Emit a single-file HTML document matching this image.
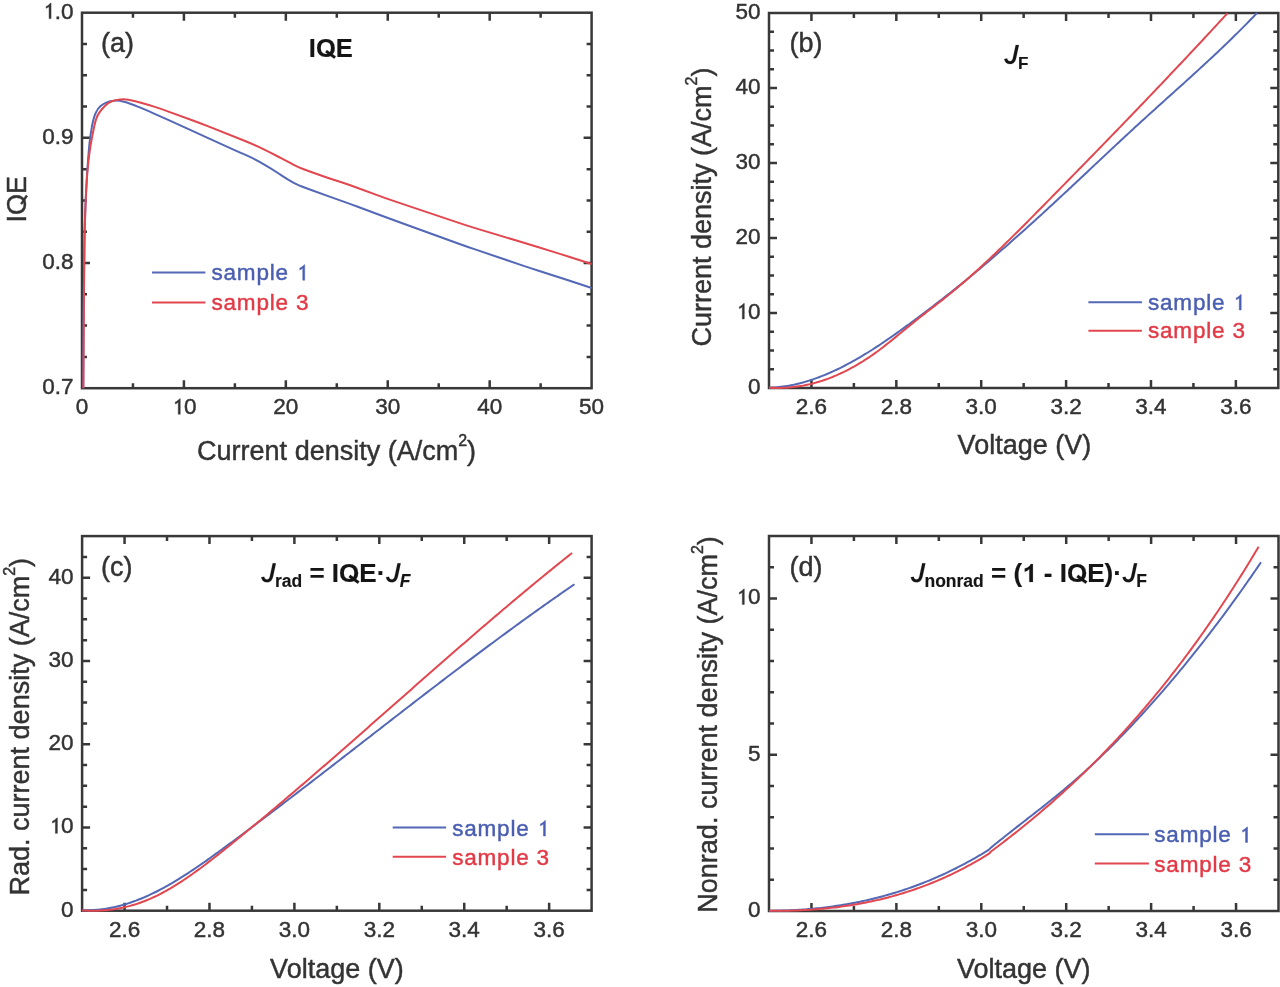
<!DOCTYPE html><html><head><meta charset="utf-8"><style>html,body{margin:0;padding:0;background:#fff;}svg{display:block;filter:blur(0.55px);}text{font-family:"Liberation Sans",sans-serif;fill:#333;stroke:#333;stroke-width:0.45px;}.tk{font-size:22.5px;}.lab{font-size:27px;}.lg{font-size:22.5px;letter-spacing:0.8px;}.one,.jj{fill:transparent!important;stroke:none!important;}.bt{font-weight:bold;fill:#151515;stroke:#151515;stroke-width:0.15px;}</style></head><body>
<svg width="1280" height="987" viewBox="0 0 1280 987">
<rect width="1280" height="987" fill="#fff"/>
<path d="M183.92,388.20v-8.00M183.92,12.70v8.00M285.84,388.20v-8.00M285.84,12.70v8.00M387.76,388.20v-8.00M387.76,12.70v8.00M489.68,388.20v-8.00M489.68,12.70v8.00M132.96,388.20v-5.00M132.96,12.70v5.00M234.88,388.20v-5.00M234.88,12.70v5.00M336.80,388.20v-5.00M336.80,12.70v5.00M438.72,388.20v-5.00M438.72,12.70v5.00M540.64,388.20v-5.00M540.64,12.70v5.00M82.00,263.03h8.00M591.60,263.03h-8.00M82.00,137.87h8.00M591.60,137.87h-8.00M82.00,356.91h5.00M591.60,356.91h-5.00M82.00,325.62h5.00M591.60,325.62h-5.00M82.00,294.32h5.00M591.60,294.32h-5.00M82.00,231.74h5.00M591.60,231.74h-5.00M82.00,200.45h5.00M591.60,200.45h-5.00M82.00,169.16h5.00M591.60,169.16h-5.00M82.00,106.57h5.00M591.60,106.57h-5.00M82.00,75.28h5.00M591.60,75.28h-5.00M82.00,43.99h5.00M591.60,43.99h-5.00" stroke="#383838" stroke-width="2.50" fill="none"/>
<rect x="82.00" y="12.70" width="509.60" height="375.50" fill="none" stroke="#383838" stroke-width="2.50"/>
<path d="M83.20,388.20 L83.55,319.00 Q83.60,310.00 83.70,301.00 L84.30,249.00 Q84.40,240.00 84.67,231.00 L85.33,209.00 Q85.60,200.00 86.11,191.01 L86.69,180.99 Q87.20,172.00 87.85,163.02 L88.15,158.98 Q88.80,150.00 89.50,143.00 L89.50,143.00 Q90.20,136.00 91.82,127.15 L91.98,126.25 Q93.60,117.40 95.70,112.95 L95.70,112.95 Q97.80,108.50 100.60,106.10 L100.60,106.10 Q103.40,103.70 106.70,102.35 L106.70,102.35 Q110.00,101.00 114.30,100.65 L114.30,100.65 Q118.60,100.30 124.00,101.70 L124.00,101.70 Q129.40,103.10 137.71,106.56 L139.79,107.44 Q148.10,110.90 154.05,113.55 L154.05,113.55 Q160.00,116.20 168.19,119.93 L191.81,130.67 Q200.00,134.40 208.19,138.13 L231.81,148.87 Q240.00,152.60 246.10,155.20 L246.10,155.20 Q252.20,157.80 260.03,162.23 L262.57,163.67 Q270.40,168.10 277.93,173.03 L281.07,175.07 Q288.60,180.00 293.30,182.60 L293.30,182.60 Q298.00,185.20 306.46,188.26 L311.94,190.24 Q320.40,193.30 328.87,196.33 L341.53,200.87 Q350.00,203.90 358.43,207.05 L377.17,214.05 Q385.60,217.20 394.06,220.26 L458.14,243.44 Q466.60,246.50 475.12,249.39 L521.48,265.11 Q530.00,268.00 538.57,270.74 L551.83,274.96 Q560.40,277.70 568.95,280.52 L591.60,288.00" stroke="#5468b6" stroke-width="2.00" fill="none" stroke-linejoin="round"/>
<path d="M83.40,388.20 L83.85,309.00 Q83.90,300.00 83.99,291.00 L84.51,240.00 Q84.60,231.00 84.92,222.01 L85.38,208.99 Q85.70,200.00 86.18,191.01 L86.72,180.99 Q87.20,172.00 88.23,163.06 L88.47,160.94 Q89.50,152.00 90.55,145.50 L90.55,145.50 Q91.60,139.00 93.44,130.19 L94.26,126.21 Q96.10,117.40 98.80,113.35 L98.80,113.35 Q101.50,109.30 104.85,105.95 L104.85,105.95 Q108.20,102.60 111.85,101.25 L111.85,101.25 Q115.50,99.90 120.05,99.50 L120.05,99.50 Q124.60,99.10 128.30,99.70 L128.30,99.70 Q132.00,100.30 140.05,102.55 L140.05,102.55 Q148.10,104.80 154.05,106.65 L154.05,106.65 Q160.00,108.50 168.45,111.59 L191.55,120.01 Q200.00,123.10 208.37,126.42 L243.83,140.48 Q252.20,143.80 260.30,147.72 L262.30,148.68 Q270.40,152.60 278.38,156.76 L280.62,157.94 Q288.60,162.10 293.30,164.65 L293.30,164.65 Q298.00,167.20 306.45,170.29 L311.95,172.31 Q320.40,175.40 328.95,178.20 L341.45,182.30 Q350.00,185.10 358.44,188.23 L377.16,195.17 Q385.60,198.30 394.13,201.17 L458.07,222.63 Q466.60,225.50 475.22,228.10 L521.38,242.00 Q530.00,244.60 538.60,247.26 L551.80,251.34 Q560.40,254.00 568.97,256.75 L591.60,264.00" stroke="#e2474f" stroke-width="2.00" fill="none" stroke-linejoin="round"/>
<text x="82.00" y="414.20" text-anchor="middle" class="tk">0</text>
<text x="183.92" y="414.20" text-anchor="middle" class="tk"><tspan class="one">1</tspan>0</text>
<text x="285.84" y="414.20" text-anchor="middle" class="tk">20</text>
<text x="387.76" y="414.20" text-anchor="middle" class="tk">30</text>
<text x="489.68" y="414.20" text-anchor="middle" class="tk">40</text>
<text x="591.60" y="414.20" text-anchor="middle" class="tk">50</text>
<text x="73.50" y="394.10" text-anchor="end" class="tk">0.7</text>
<text x="73.50" y="268.93" text-anchor="end" class="tk">0.8</text>
<text x="73.50" y="143.77" text-anchor="end" class="tk">0.9</text>
<text x="73.50" y="18.60" text-anchor="end" class="tk"><tspan class="one">1</tspan>.0</text>
<text x="336.60" y="459.80" text-anchor="middle" class="lab">Current density (A/cm<tspan font-size="16" dy="-14.3">2</tspan><tspan dy="14.3">)</tspan></text>
<text transform="translate(26,199.2) rotate(-90)" text-anchor="middle" class="lab">I<tspan class="qq">O</tspan>E</text>
<text x="101" y="51.5" class="lab">(a)</text>
<text x="308.8" y="57" class="bt" font-size="25.5">I<tspan class="qq">O</tspan>E</text>
<path d="M152.00,272.60H205.40" stroke="#5468b6" stroke-width="2.00"/>
<path d="M152.00,302.40H205.40" stroke="#e2474f" stroke-width="2.00"/>
<text x="211.50" y="280.20" class="lg" style="fill:#4a5eb2;stroke:#4a5eb2">sample <tspan class="one">1</tspan></text>
<text x="211.50" y="310.00" class="lg" style="fill:#e23a46;stroke:#e23a46">sample 3</text>
<path d="M811.44,388.00v-8.00M811.44,13.00v8.00M896.33,388.00v-8.00M896.33,13.00v8.00M981.21,388.00v-8.00M981.21,13.00v8.00M1066.09,388.00v-8.00M1066.09,13.00v8.00M1150.98,388.00v-8.00M1150.98,13.00v8.00M1235.86,388.00v-8.00M1235.86,13.00v8.00M853.88,388.00v-5.00M853.88,13.00v5.00M938.77,388.00v-5.00M938.77,13.00v5.00M1023.65,388.00v-5.00M1023.65,13.00v5.00M1108.53,388.00v-5.00M1108.53,13.00v5.00M1193.42,388.00v-5.00M1193.42,13.00v5.00M769.00,313.00h8.00M1278.30,313.00h-8.00M769.00,238.00h8.00M1278.30,238.00h-8.00M769.00,163.00h8.00M1278.30,163.00h-8.00M769.00,88.00h8.00M1278.30,88.00h-8.00M769.00,369.25h5.00M1278.30,369.25h-5.00M769.00,350.50h5.00M1278.30,350.50h-5.00M769.00,331.75h5.00M1278.30,331.75h-5.00M769.00,294.25h5.00M1278.30,294.25h-5.00M769.00,275.50h5.00M1278.30,275.50h-5.00M769.00,256.75h5.00M1278.30,256.75h-5.00M769.00,219.25h5.00M1278.30,219.25h-5.00M769.00,200.50h5.00M1278.30,200.50h-5.00M769.00,181.75h5.00M1278.30,181.75h-5.00M769.00,144.25h5.00M1278.30,144.25h-5.00M769.00,125.50h5.00M1278.30,125.50h-5.00M769.00,106.75h5.00M1278.30,106.75h-5.00M769.00,69.25h5.00M1278.30,69.25h-5.00M769.00,50.50h5.00M1278.30,50.50h-5.00M769.00,31.75h5.00M1278.30,31.75h-5.00" stroke="#383838" stroke-width="2.50" fill="none"/>
<rect x="769.00" y="13.00" width="509.30" height="375.00" fill="none" stroke="#383838" stroke-width="2.50"/>
<path d="M769.00,387.80 L771.00,387.72 L773.00,387.61 L775.00,387.47 L777.00,387.30 L779.00,387.09 L781.00,386.86 L783.00,386.60 L785.00,386.31 L787.00,385.99 L789.00,385.64 L791.00,385.26 L793.00,384.86 L795.00,384.43 L797.00,383.97 L799.00,383.48 L801.00,382.97 L803.00,382.43 L805.00,381.86 L807.00,381.27 L809.00,380.65 L811.00,380.01 L813.00,379.34 L815.00,378.65 L817.00,377.93 L819.00,377.19 L821.00,376.42 L823.00,375.64 L825.00,374.82 L827.00,373.99 L829.00,373.13 L831.00,372.26 L833.00,371.36 L835.00,370.43 L837.00,369.49 L839.00,368.53 L841.00,367.54 L843.00,366.54 L845.00,365.51 L847.00,364.47 L849.00,363.40 L851.00,362.32 L853.00,361.22 L855.00,360.10 L857.00,358.96 L859.00,357.80 L861.00,356.63 L863.00,355.44 L865.00,354.23 L867.00,353.01 L869.00,351.77 L871.00,350.51 L873.00,349.24 L875.00,347.95 L877.00,346.65 L879.00,345.33 L881.00,344.00 L883.00,342.65 L885.00,341.29 L887.00,339.92 L889.00,338.54 L891.00,337.15 L893.00,335.74 L895.00,334.33 L897.00,332.90 L899.00,331.47 L901.00,330.03 L903.00,328.58 L905.00,327.12 L907.00,325.66 L909.00,324.19 L911.00,322.71 L913.00,321.23 L915.00,319.75 L917.00,318.26 L919.00,316.76 L921.00,315.26 L923.00,313.76 L925.00,312.26 L927.00,310.75 L929.00,309.23 L931.00,307.71 L933.00,306.18 L935.00,304.65 L937.00,303.12 L939.00,301.57 L941.00,300.03 L943.00,298.47 L945.00,296.91 L947.00,295.34 L949.00,293.77 L951.00,292.19 L953.00,290.60 L955.00,289.00 L957.00,287.40 L959.00,285.80 L961.00,284.18 L963.00,282.56 L965.00,280.93 L967.00,279.30 L969.00,277.66 L971.00,276.01 L973.00,274.36 L975.00,272.70 L977.00,271.04 L979.00,269.37 L981.00,267.69 L983.00,266.01 L985.00,264.32 L987.00,262.62 L989.00,260.92 L991.00,259.22 L993.00,257.51 L995.00,255.79 L997.00,254.07 L999.00,252.34 L1001.00,250.61 L1003.00,248.87 L1005.00,247.13 L1007.00,245.38 L1009.00,243.63 L1011.00,241.87 L1013.00,240.11 L1015.00,238.34 L1017.00,236.57 L1019.00,234.79 L1021.00,233.01 L1023.00,231.22 L1025.00,229.43 L1027.00,227.63 L1029.00,225.83 L1031.00,224.03 L1033.00,222.22 L1035.00,220.41 L1037.00,218.59 L1039.00,216.77 L1041.00,214.94 L1043.00,213.12 L1045.00,211.28 L1047.00,209.45 L1049.00,207.61 L1051.00,205.76 L1053.00,203.91 L1055.00,202.06 L1057.00,200.21 L1059.00,198.35 L1061.00,196.49 L1063.00,194.63 L1065.00,192.77 L1067.00,190.90 L1069.00,189.03 L1071.00,187.16 L1073.00,185.29 L1075.00,183.42 L1077.00,181.54 L1079.00,179.67 L1081.00,177.79 L1083.00,175.91 L1085.00,174.03 L1087.00,172.15 L1089.00,170.27 L1091.00,168.39 L1093.00,166.51 L1095.00,164.64 L1097.00,162.76 L1099.00,160.88 L1101.00,159.00 L1103.00,157.12 L1105.00,155.25 L1107.00,153.37 L1109.00,151.50 L1111.00,149.63 L1113.00,147.76 L1115.00,145.89 L1117.00,144.02 L1119.00,142.16 L1121.00,140.29 L1123.00,138.43 L1125.00,136.58 L1127.00,134.72 L1129.00,132.87 L1131.00,131.03 L1133.00,129.18 L1135.00,127.34 L1137.00,125.50 L1139.00,123.67 L1141.00,121.84 L1143.00,120.02 L1145.00,118.19 L1147.00,116.38 L1149.00,114.56 L1151.00,112.75 L1153.00,110.94 L1155.00,109.14 L1157.00,107.33 L1159.00,105.53 L1161.00,103.73 L1163.00,101.93 L1165.00,100.13 L1167.00,98.33 L1169.00,96.53 L1171.00,94.73 L1173.00,92.93 L1175.00,91.13 L1177.00,89.33 L1179.00,87.53 L1181.00,85.73 L1183.00,83.92 L1185.00,82.12 L1187.00,80.31 L1189.00,78.49 L1191.00,76.68 L1193.00,74.86 L1195.00,73.03 L1197.00,71.21 L1199.00,69.37 L1201.00,67.54 L1203.00,65.70 L1205.00,63.85 L1207.00,62.00 L1209.00,60.14 L1211.00,58.28 L1213.00,56.41 L1215.00,54.53 L1217.00,52.65 L1219.00,50.75 L1221.00,48.86 L1223.00,46.95 L1225.00,45.03 L1227.00,43.11 L1229.00,41.18 L1231.00,39.23 L1233.00,37.28 L1235.00,35.32 L1237.00,33.35 L1239.00,31.37 L1241.00,29.38 L1243.00,27.37 L1245.00,25.36 L1247.00,23.33 L1249.00,21.29 L1251.00,19.24 L1253.00,17.18 L1255.00,15.10 L1257.00,13.01" stroke="#5468b6" stroke-width="2.00" fill="none" stroke-linejoin="round"/>
<path d="M769.00,387.62 L771.00,387.74 L773.00,387.83 L775.00,387.89 L777.00,387.92 L779.00,387.92 L781.00,387.89 L783.00,387.83 L785.00,387.74 L787.00,387.63 L789.00,387.48 L791.00,387.30 L793.00,387.10 L795.00,386.86 L797.00,386.60 L799.00,386.30 L801.00,385.98 L803.00,385.62 L805.00,385.24 L807.00,384.83 L809.00,384.38 L811.00,383.91 L813.00,383.41 L815.00,382.88 L817.00,382.32 L819.00,381.73 L821.00,381.11 L823.00,380.46 L825.00,379.78 L827.00,379.07 L829.00,378.33 L831.00,377.56 L833.00,376.76 L835.00,375.94 L837.00,375.08 L839.00,374.19 L841.00,373.27 L843.00,372.33 L845.00,371.35 L847.00,370.35 L849.00,369.31 L851.00,368.24 L853.00,367.15 L855.00,366.03 L857.00,364.87 L859.00,363.69 L861.00,362.47 L863.00,361.23 L865.00,359.96 L867.00,358.65 L869.00,357.32 L871.00,355.96 L873.00,354.57 L875.00,353.14 L877.00,351.69 L879.00,350.21 L881.00,348.71 L883.00,347.18 L885.00,345.62 L887.00,344.05 L889.00,342.47 L891.00,340.86 L893.00,339.25 L895.00,337.62 L897.00,335.98 L899.00,334.34 L901.00,332.69 L903.00,331.05 L905.00,329.40 L907.00,327.75 L909.00,326.11 L911.00,324.48 L913.00,322.85 L915.00,321.24 L917.00,319.64 L919.00,318.05 L921.00,316.47 L923.00,314.91 L925.00,313.35 L927.00,311.80 L929.00,310.25 L931.00,308.71 L933.00,307.16 L935.00,305.62 L937.00,304.07 L939.00,302.51 L941.00,300.95 L943.00,299.38 L945.00,297.80 L947.00,296.20 L949.00,294.59 L951.00,292.96 L953.00,291.32 L955.00,289.66 L957.00,287.99 L959.00,286.30 L961.00,284.59 L963.00,282.87 L965.00,281.14 L967.00,279.39 L969.00,277.63 L971.00,275.86 L973.00,274.07 L975.00,272.28 L977.00,270.46 L979.00,268.64 L981.00,266.81 L983.00,264.96 L985.00,263.10 L987.00,261.24 L989.00,259.36 L991.00,257.47 L993.00,255.57 L995.00,253.67 L997.00,251.75 L999.00,249.83 L1001.00,247.90 L1003.00,245.96 L1005.00,244.01 L1007.00,242.05 L1009.00,240.09 L1011.00,238.12 L1013.00,236.15 L1015.00,234.16 L1017.00,232.18 L1019.00,230.19 L1021.00,228.19 L1023.00,226.19 L1025.00,224.18 L1027.00,222.17 L1029.00,220.16 L1031.00,218.14 L1033.00,216.12 L1035.00,214.09 L1037.00,212.07 L1039.00,210.04 L1041.00,208.01 L1043.00,205.98 L1045.00,203.95 L1047.00,201.91 L1049.00,199.88 L1051.00,197.85 L1053.00,195.81 L1055.00,193.78 L1057.00,191.74 L1059.00,189.70 L1061.00,187.66 L1063.00,185.63 L1065.00,183.59 L1067.00,181.55 L1069.00,179.51 L1071.00,177.46 L1073.00,175.42 L1075.00,173.38 L1077.00,171.33 L1079.00,169.29 L1081.00,167.24 L1083.00,165.19 L1085.00,163.14 L1087.00,161.09 L1089.00,159.04 L1091.00,156.99 L1093.00,154.94 L1095.00,152.88 L1097.00,150.83 L1099.00,148.77 L1101.00,146.71 L1103.00,144.65 L1105.00,142.59 L1107.00,140.53 L1109.00,138.47 L1111.00,136.41 L1113.00,134.34 L1115.00,132.27 L1117.00,130.21 L1119.00,128.14 L1121.00,126.07 L1123.00,123.99 L1125.00,121.92 L1127.00,119.84 L1129.00,117.77 L1131.00,115.69 L1133.00,113.61 L1135.00,111.53 L1137.00,109.45 L1139.00,107.36 L1141.00,105.28 L1143.00,103.19 L1145.00,101.10 L1147.00,99.01 L1149.00,96.92 L1151.00,94.82 L1153.00,92.73 L1155.00,90.63 L1157.00,88.53 L1159.00,86.43 L1161.00,84.32 L1163.00,82.22 L1165.00,80.11 L1167.00,78.00 L1169.00,75.89 L1171.00,73.78 L1173.00,71.66 L1175.00,69.55 L1177.00,67.43 L1179.00,65.31 L1181.00,63.19 L1183.00,61.06 L1185.00,58.94 L1187.00,56.81 L1189.00,54.68 L1191.00,52.54 L1193.00,50.41 L1195.00,48.27 L1197.00,46.13 L1199.00,43.99 L1201.00,41.85 L1203.00,39.70 L1205.00,37.55 L1207.00,35.40 L1209.00,33.25 L1211.00,31.09 L1213.00,28.93 L1215.00,26.77 L1217.00,24.61 L1219.00,22.44 L1221.00,20.28 L1223.00,18.11 L1225.00,15.93 L1227.00,13.76 L1227.50,13.22" stroke="#e2474f" stroke-width="2.00" fill="none" stroke-linejoin="round"/>
<text x="811.44" y="414.00" text-anchor="middle" class="tk">2.6</text>
<text x="896.33" y="414.00" text-anchor="middle" class="tk">2.8</text>
<text x="981.21" y="414.00" text-anchor="middle" class="tk">3.0</text>
<text x="1066.09" y="414.00" text-anchor="middle" class="tk">3.2</text>
<text x="1150.98" y="414.00" text-anchor="middle" class="tk">3.4</text>
<text x="1235.86" y="414.00" text-anchor="middle" class="tk">3.6</text>
<text x="760.50" y="393.90" text-anchor="end" class="tk">0</text>
<text x="760.50" y="318.90" text-anchor="end" class="tk"><tspan class="one">1</tspan>0</text>
<text x="760.50" y="243.90" text-anchor="end" class="tk">20</text>
<text x="760.50" y="168.90" text-anchor="end" class="tk">30</text>
<text x="760.50" y="93.90" text-anchor="end" class="tk">40</text>
<text x="760.50" y="18.90" text-anchor="end" class="tk">50</text>
<text x="1024.40" y="454.40" text-anchor="middle" class="lab">Voltage (V)</text>
<text transform="translate(711.3,207) rotate(-90)" text-anchor="middle" class="lab">Current density (A/cm<tspan font-size="16" dy="-14.3">2</tspan><tspan dy="14.3">)</tspan></text>
<text x="789.5" y="52" class="lab">(b)</text>
<text x="1003.5" y="63.8" class="bt" font-size="26"><tspan font-style="italic" class="jj">J</tspan><tspan font-size="17" dy="5.2">F</tspan></text>
<path d="M1088.40,302.20H1141.90" stroke="#5468b6" stroke-width="2.00"/>
<path d="M1088.40,330.70H1141.90" stroke="#e2474f" stroke-width="2.00"/>
<text x="1148.00" y="310.00" class="lg" style="fill:#4a5eb2;stroke:#4a5eb2">sample <tspan class="one">1</tspan></text>
<text x="1148.00" y="338.40" class="lg" style="fill:#e23a46;stroke:#e23a46">sample 3</text>
<path d="M124.56,910.70v-8.00M124.56,536.10v8.00M209.48,910.70v-8.00M209.48,536.10v8.00M294.39,910.70v-8.00M294.39,536.10v8.00M379.31,910.70v-8.00M379.31,536.10v8.00M464.23,910.70v-8.00M464.23,536.10v8.00M549.14,910.70v-8.00M549.14,536.10v8.00M167.02,910.70v-5.00M167.02,536.10v5.00M251.93,910.70v-5.00M251.93,536.10v5.00M336.85,910.70v-5.00M336.85,536.10v5.00M421.77,910.70v-5.00M421.77,536.10v5.00M506.68,910.70v-5.00M506.68,536.10v5.00M82.10,827.46h8.00M591.60,827.46h-8.00M82.10,744.21h8.00M591.60,744.21h-8.00M82.10,660.97h8.00M591.60,660.97h-8.00M82.10,577.72h8.00M591.60,577.72h-8.00M82.10,889.89h5.00M591.60,889.89h-5.00M82.10,869.08h5.00M591.60,869.08h-5.00M82.10,848.27h5.00M591.60,848.27h-5.00M82.10,806.64h5.00M591.60,806.64h-5.00M82.10,785.83h5.00M591.60,785.83h-5.00M82.10,765.02h5.00M591.60,765.02h-5.00M82.10,723.40h5.00M591.60,723.40h-5.00M82.10,702.59h5.00M591.60,702.59h-5.00M82.10,681.78h5.00M591.60,681.78h-5.00M82.10,640.16h5.00M591.60,640.16h-5.00M82.10,619.34h5.00M591.60,619.34h-5.00M82.10,598.53h5.00M591.60,598.53h-5.00M82.10,556.91h5.00M591.60,556.91h-5.00" stroke="#383838" stroke-width="2.50" fill="none"/>
<rect x="82.10" y="536.10" width="509.50" height="374.60" fill="none" stroke="#383838" stroke-width="2.50"/>
<path d="M82.10,910.16 L84.10,910.20 L86.10,910.22 L88.10,910.20 L90.10,910.16 L92.10,910.07 L94.10,909.96 L96.10,909.82 L98.10,909.64 L100.10,909.43 L102.10,909.19 L104.10,908.92 L106.10,908.62 L108.10,908.29 L110.10,907.93 L112.10,907.54 L114.10,907.11 L116.10,906.66 L118.10,906.18 L120.10,905.67 L122.10,905.13 L124.10,904.57 L126.10,903.97 L128.10,903.34 L130.10,902.69 L132.10,902.01 L134.10,901.30 L136.10,900.57 L138.10,899.80 L140.10,899.01 L142.10,898.20 L144.10,897.35 L146.10,896.48 L148.10,895.59 L150.10,894.67 L152.10,893.72 L154.10,892.75 L156.10,891.75 L158.10,890.74 L160.10,889.70 L162.10,888.63 L164.10,887.55 L166.10,886.44 L168.10,885.32 L170.10,884.17 L172.10,883.01 L174.10,881.83 L176.10,880.62 L178.10,879.40 L180.10,878.17 L182.10,876.92 L184.10,875.65 L186.10,874.36 L188.10,873.07 L190.10,871.75 L192.10,870.43 L194.10,869.09 L196.10,867.74 L198.10,866.37 L200.10,865.00 L202.10,863.61 L204.10,862.22 L206.10,860.81 L208.10,859.40 L210.10,857.98 L212.10,856.54 L214.10,855.11 L216.10,853.66 L218.10,852.21 L220.10,850.75 L222.10,849.29 L224.10,847.83 L226.10,846.36 L228.10,844.88 L230.10,843.41 L232.10,841.93 L234.10,840.45 L236.10,838.97 L238.10,837.48 L240.10,835.99 L242.10,834.50 L244.10,833.01 L246.10,831.52 L248.10,830.03 L250.10,828.53 L252.10,827.03 L254.10,825.53 L256.10,824.03 L258.10,822.52 L260.10,821.02 L262.10,819.51 L264.10,818.00 L266.10,816.49 L268.10,814.97 L270.10,813.46 L272.10,811.94 L274.10,810.43 L276.10,808.91 L278.10,807.39 L280.10,805.86 L282.10,804.34 L284.10,802.82 L286.10,801.29 L288.10,799.76 L290.10,798.23 L292.10,796.70 L294.10,795.17 L296.10,793.64 L298.10,792.11 L300.10,790.57 L302.10,789.04 L304.10,787.50 L306.10,785.96 L308.10,784.42 L310.10,782.88 L312.10,781.34 L314.10,779.80 L316.10,778.26 L318.10,776.72 L320.10,775.17 L322.10,773.63 L324.10,772.08 L326.10,770.54 L328.10,768.99 L330.10,767.44 L332.10,765.90 L334.10,764.35 L336.10,762.80 L338.10,761.25 L340.10,759.70 L342.10,758.15 L344.10,756.60 L346.10,755.05 L348.10,753.50 L350.10,751.95 L352.10,750.39 L354.10,748.84 L356.10,747.29 L358.10,745.74 L360.10,744.19 L362.10,742.63 L364.10,741.08 L366.10,739.53 L368.10,737.98 L370.10,736.42 L372.10,734.87 L374.10,733.32 L376.10,731.77 L378.10,730.22 L380.10,728.67 L382.10,727.11 L384.10,725.56 L386.10,724.01 L388.10,722.46 L390.10,720.91 L392.10,719.36 L394.10,717.82 L396.10,716.27 L398.10,714.72 L400.10,713.17 L402.10,711.63 L404.10,710.08 L406.10,708.53 L408.10,706.99 L410.10,705.45 L412.10,703.90 L414.10,702.36 L416.10,700.82 L418.10,699.28 L420.10,697.74 L422.10,696.20 L424.10,694.66 L426.10,693.12 L428.10,691.59 L430.10,690.05 L432.10,688.52 L434.10,686.99 L436.10,685.46 L438.10,683.93 L440.10,682.40 L442.10,680.87 L444.10,679.34 L446.10,677.82 L448.10,676.29 L450.10,674.77 L452.10,673.25 L454.10,671.73 L456.10,670.21 L458.10,668.70 L460.10,667.18 L462.10,665.67 L464.10,664.16 L466.10,662.65 L468.10,661.14 L470.10,659.63 L472.10,658.13 L474.10,656.63 L476.10,655.12 L478.10,653.62 L480.10,652.13 L482.10,650.63 L484.10,649.14 L486.10,647.65 L488.10,646.16 L490.10,644.67 L492.10,643.18 L494.10,641.70 L496.10,640.22 L498.10,638.74 L500.10,637.27 L502.10,635.79 L504.10,634.32 L506.10,632.85 L508.10,631.38 L510.10,629.92 L512.10,628.45 L514.10,626.99 L516.10,625.54 L518.10,624.08 L520.10,622.63 L522.10,621.18 L524.10,619.73 L526.10,618.29 L528.10,616.85 L530.10,615.41 L532.10,613.97 L534.10,612.54 L536.10,611.11 L538.10,609.68 L540.10,608.25 L542.10,606.83 L544.10,605.41 L546.10,604.00 L548.10,602.58 L550.10,601.17 L552.10,599.77 L554.10,598.36 L556.10,596.96 L558.10,595.56 L560.10,594.17 L562.10,592.78 L564.10,591.39 L566.10,590.01 L568.10,588.63 L570.10,587.25 L572.10,585.87 L574.10,584.50 L574.50,584.23" stroke="#5468b6" stroke-width="2.00" fill="none" stroke-linejoin="round"/>
<path d="M82.10,910.43 L84.10,910.54 L86.10,910.62 L88.10,910.69 L90.10,910.70 L92.10,910.70 L94.10,910.70 L96.10,910.70 L98.10,910.64 L100.10,910.55 L102.10,910.44 L104.10,910.30 L106.10,910.13 L108.10,909.94 L110.10,909.72 L112.10,909.47 L114.10,909.19 L116.10,908.88 L118.10,908.54 L120.10,908.17 L122.10,907.78 L124.10,907.35 L126.10,906.89 L128.10,906.40 L130.10,905.88 L132.10,905.32 L134.10,904.74 L136.10,904.12 L138.10,903.46 L140.10,902.78 L142.10,902.06 L144.10,901.30 L146.10,900.51 L148.10,899.69 L150.10,898.83 L152.10,897.94 L154.10,897.01 L156.10,896.05 L158.10,895.07 L160.10,894.05 L162.10,893.00 L164.10,891.92 L166.10,890.82 L168.10,889.68 L170.10,888.52 L172.10,887.34 L174.10,886.13 L176.10,884.89 L178.10,883.63 L180.10,882.35 L182.10,881.05 L184.10,879.72 L186.10,878.38 L188.10,877.01 L190.10,875.62 L192.10,874.22 L194.10,872.80 L196.10,871.36 L198.10,869.91 L200.10,868.43 L202.10,866.95 L204.10,865.45 L206.10,863.94 L208.10,862.41 L210.10,860.88 L212.10,859.33 L214.10,857.77 L216.10,856.20 L218.10,854.62 L220.10,853.04 L222.10,851.45 L224.10,849.85 L226.10,848.25 L228.10,846.64 L230.10,845.02 L232.10,843.40 L234.10,841.78 L236.10,840.16 L238.10,838.53 L240.10,836.90 L242.10,835.27 L244.10,833.63 L246.10,831.99 L248.10,830.34 L250.10,828.69 L252.10,827.04 L254.10,825.39 L256.10,823.73 L258.10,822.07 L260.10,820.41 L262.10,818.74 L264.10,817.07 L266.10,815.40 L268.10,813.72 L270.10,812.05 L272.10,810.37 L274.10,808.68 L276.10,807.00 L278.10,805.31 L280.10,803.62 L282.10,801.93 L284.10,800.23 L286.10,798.53 L288.10,796.83 L290.10,795.13 L292.10,793.42 L294.10,791.72 L296.10,790.01 L298.10,788.30 L300.10,786.58 L302.10,784.87 L304.10,783.15 L306.10,781.43 L308.10,779.71 L310.10,777.98 L312.10,776.26 L314.10,774.53 L316.10,772.80 L318.10,771.07 L320.10,769.34 L322.10,767.60 L324.10,765.87 L326.10,764.13 L328.10,762.39 L330.10,760.65 L332.10,758.91 L334.10,757.17 L336.10,755.43 L338.10,753.68 L340.10,751.93 L342.10,750.19 L344.10,748.44 L346.10,746.69 L348.10,744.94 L350.10,743.19 L352.10,741.43 L354.10,739.68 L356.10,737.92 L358.10,736.17 L360.10,734.41 L362.10,732.66 L364.10,730.90 L366.10,729.14 L368.10,727.38 L370.10,725.62 L372.10,723.86 L374.10,722.10 L376.10,720.34 L378.10,718.58 L380.10,716.82 L382.10,715.06 L384.10,713.30 L386.10,711.53 L388.10,709.77 L390.10,708.01 L392.10,706.25 L394.10,704.48 L396.10,702.72 L398.10,700.96 L400.10,699.20 L402.10,697.44 L404.10,695.67 L406.10,693.91 L408.10,692.15 L410.10,690.39 L412.10,688.63 L414.10,686.87 L416.10,685.11 L418.10,683.35 L420.10,681.59 L422.10,679.83 L424.10,678.08 L426.10,676.32 L428.10,674.56 L430.10,672.81 L432.10,671.06 L434.10,669.30 L436.10,667.55 L438.10,665.80 L440.10,664.05 L442.10,662.30 L444.10,660.55 L446.10,658.80 L448.10,657.06 L450.10,655.31 L452.10,653.57 L454.10,651.83 L456.10,650.09 L458.10,648.35 L460.10,646.61 L462.10,644.87 L464.10,643.14 L466.10,641.40 L468.10,639.67 L470.10,637.94 L472.10,636.21 L474.10,634.49 L476.10,632.76 L478.10,631.04 L480.10,629.32 L482.10,627.60 L484.10,625.88 L486.10,624.17 L488.10,622.45 L490.10,620.74 L492.10,619.03 L494.10,617.33 L496.10,615.62 L498.10,613.92 L500.10,612.22 L502.10,610.52 L504.10,608.83 L506.10,607.14 L508.10,605.45 L510.10,603.76 L512.10,602.07 L514.10,600.39 L516.10,598.71 L518.10,597.04 L520.10,595.36 L522.10,593.69 L524.10,592.02 L526.10,590.36 L528.10,588.70 L530.10,587.04 L532.10,585.38 L534.10,583.73 L536.10,582.08 L538.10,580.43 L540.10,578.79 L542.10,577.15 L544.10,575.51 L546.10,573.88 L548.10,572.25 L550.10,570.62 L552.10,569.00 L554.10,567.38 L556.10,565.76 L558.10,564.15 L560.10,562.54 L562.10,560.93 L564.10,559.33 L566.10,557.73 L568.10,556.14 L570.10,554.55 L572.10,552.96" stroke="#e2474f" stroke-width="2.00" fill="none" stroke-linejoin="round"/>
<text x="124.56" y="936.70" text-anchor="middle" class="tk">2.6</text>
<text x="209.48" y="936.70" text-anchor="middle" class="tk">2.8</text>
<text x="294.39" y="936.70" text-anchor="middle" class="tk">3.0</text>
<text x="379.31" y="936.70" text-anchor="middle" class="tk">3.2</text>
<text x="464.23" y="936.70" text-anchor="middle" class="tk">3.4</text>
<text x="549.14" y="936.70" text-anchor="middle" class="tk">3.6</text>
<text x="73.60" y="916.60" text-anchor="end" class="tk">0</text>
<text x="73.60" y="833.36" text-anchor="end" class="tk"><tspan class="one">1</tspan>0</text>
<text x="73.60" y="750.11" text-anchor="end" class="tk">20</text>
<text x="73.60" y="666.87" text-anchor="end" class="tk">30</text>
<text x="73.60" y="583.62" text-anchor="end" class="tk">40</text>
<text x="336.90" y="978.10" text-anchor="middle" class="lab">Voltage (V)</text>
<text transform="translate(29.1,726.7) rotate(-90)" text-anchor="middle" class="lab">Rad. current density (A/cm<tspan font-size="16" dy="-14.3">2</tspan><tspan dy="14.3">)</tspan></text>
<text x="101" y="576" class="lab">(c)</text>
<text x="260.5" y="582" class="bt" font-size="26"><tspan font-style="italic" class="jj">J</tspan><tspan font-size="17.5" dy="5.2">rad</tspan><tspan dy="-5.2"> = I<tspan class="qq">O</tspan>E·</tspan><tspan font-style="italic" class="jj">J</tspan><tspan font-style="italic" font-size="17.5" dy="5.2">F</tspan></text>
<path d="M392.70,827.60H446.10" stroke="#5468b6" stroke-width="2.00"/>
<path d="M392.70,856.70H446.10" stroke="#e2474f" stroke-width="2.00"/>
<text x="452.20" y="836.00" class="lg" style="fill:#4a5eb2;stroke:#4a5eb2">sample <tspan class="one">1</tspan></text>
<text x="452.20" y="864.80" class="lg" style="fill:#e23a46;stroke:#e23a46">sample 3</text>
<path d="M811.46,911.00v-8.00M811.46,536.00v8.00M896.38,911.00v-8.00M896.38,536.00v8.00M981.29,911.00v-8.00M981.29,536.00v8.00M1066.21,911.00v-8.00M1066.21,536.00v8.00M1151.12,911.00v-8.00M1151.12,536.00v8.00M1236.04,911.00v-8.00M1236.04,536.00v8.00M853.92,911.00v-5.00M853.92,536.00v5.00M938.83,911.00v-5.00M938.83,536.00v5.00M1023.75,911.00v-5.00M1023.75,536.00v5.00M1108.67,911.00v-5.00M1108.67,536.00v5.00M1193.58,911.00v-5.00M1193.58,536.00v5.00M769.00,754.75h8.00M1278.50,754.75h-8.00M769.00,598.50h8.00M1278.50,598.50h-8.00M769.00,879.75h5.00M1278.50,879.75h-5.00M769.00,848.50h5.00M1278.50,848.50h-5.00M769.00,817.25h5.00M1278.50,817.25h-5.00M769.00,786.00h5.00M1278.50,786.00h-5.00M769.00,723.50h5.00M1278.50,723.50h-5.00M769.00,692.25h5.00M1278.50,692.25h-5.00M769.00,661.00h5.00M1278.50,661.00h-5.00M769.00,629.75h5.00M1278.50,629.75h-5.00M769.00,567.25h5.00M1278.50,567.25h-5.00" stroke="#383838" stroke-width="2.50" fill="none"/>
<rect x="769.00" y="536.00" width="509.50" height="375.00" fill="none" stroke="#383838" stroke-width="2.50"/>
<path d="M769.00,910.90 L771.00,910.88 L773.00,910.86 L775.00,910.82 L777.00,910.79 L779.00,910.74 L781.00,910.69 L783.00,910.62 L785.00,910.56 L787.00,910.48 L789.00,910.39 L791.00,910.30 L793.00,910.20 L795.00,910.09 L797.00,909.97 L799.00,909.85 L801.00,909.71 L803.00,909.57 L805.00,909.42 L807.00,909.26 L809.00,909.10 L811.00,908.92 L813.00,908.73 L815.00,908.54 L817.00,908.34 L819.00,908.13 L821.00,907.90 L823.00,907.67 L825.00,907.44 L827.00,907.19 L829.00,906.93 L831.00,906.66 L833.00,906.39 L835.00,906.10 L837.00,905.80 L839.00,905.50 L841.00,905.18 L843.00,904.86 L845.00,904.52 L847.00,904.18 L849.00,903.82 L851.00,903.46 L853.00,903.08 L855.00,902.70 L857.00,902.30 L859.00,901.90 L861.00,901.48 L863.00,901.05 L865.00,900.61 L867.00,900.17 L869.00,899.71 L871.00,899.24 L873.00,898.76 L875.00,898.26 L877.00,897.76 L879.00,897.25 L881.00,896.72 L883.00,896.18 L885.00,895.64 L887.00,895.08 L889.00,894.50 L891.00,893.92 L893.00,893.33 L895.00,892.72 L897.00,892.10 L899.00,891.47 L901.00,890.83 L903.00,890.18 L905.00,889.51 L907.00,888.83 L909.00,888.14 L911.00,887.44 L913.00,886.73 L915.00,886.00 L917.00,885.26 L919.00,884.51 L921.00,883.74 L923.00,882.97 L925.00,882.17 L927.00,881.37 L929.00,880.56 L931.00,879.73 L933.00,878.88 L935.00,878.03 L937.00,877.16 L939.00,876.28 L941.00,875.38 L943.00,874.47 L945.00,873.55 L947.00,872.61 L949.00,871.66 L951.00,870.70 L953.00,869.72 L955.00,868.73 L957.00,867.73 L959.00,866.71 L961.00,865.67 L963.00,864.62 L965.00,863.56 L967.00,862.49 L969.00,861.40 L971.00,860.29 L973.00,859.17 L975.00,858.04 L977.00,856.89 L979.00,855.72 L981.00,854.55 L983.00,853.35 L985.00,852.14 L987.00,850.92 L989.00,849.68 L991.00,847.60 L993.00,845.97 L995.00,844.34 L997.00,842.72 L999.00,841.12 L1001.00,839.51 L1003.00,837.92 L1005.00,836.33 L1007.00,834.75 L1009.00,833.18 L1011.00,831.61 L1013.00,830.04 L1015.00,828.47 L1017.00,826.91 L1019.00,825.36 L1021.00,823.80 L1023.00,822.24 L1025.00,820.69 L1027.00,819.13 L1029.00,817.58 L1031.00,816.02 L1033.00,814.46 L1035.00,812.90 L1037.00,811.33 L1039.00,809.77 L1041.00,808.19 L1043.00,806.61 L1045.00,805.03 L1047.00,803.44 L1049.00,801.84 L1051.00,800.24 L1053.00,798.63 L1055.00,797.01 L1057.00,795.38 L1059.00,793.74 L1061.00,792.09 L1063.00,790.43 L1065.00,788.75 L1067.00,787.07 L1069.00,785.38 L1071.00,783.67 L1073.00,781.95 L1075.00,780.22 L1077.00,778.48 L1079.00,776.72 L1081.00,774.96 L1083.00,773.17 L1085.00,771.38 L1087.00,769.57 L1089.00,767.74 L1091.00,765.90 L1093.00,764.05 L1095.00,762.18 L1097.00,760.30 L1099.00,758.40 L1101.00,756.49 L1103.00,754.56 L1105.00,752.62 L1107.00,750.67 L1109.00,748.70 L1111.00,746.72 L1113.00,744.73 L1115.00,742.72 L1117.00,740.70 L1119.00,738.67 L1121.00,736.62 L1123.00,734.56 L1125.00,732.49 L1127.00,730.40 L1129.00,728.31 L1131.00,726.20 L1133.00,724.07 L1135.00,721.94 L1137.00,719.79 L1139.00,717.63 L1141.00,715.46 L1143.00,713.28 L1145.00,711.08 L1147.00,708.88 L1149.00,706.66 L1151.00,704.43 L1153.00,702.18 L1155.00,699.93 L1157.00,697.66 L1159.00,695.38 L1161.00,693.09 L1163.00,690.78 L1165.00,688.46 L1167.00,686.14 L1169.00,683.79 L1171.00,681.44 L1173.00,679.07 L1175.00,676.69 L1177.00,674.30 L1179.00,671.90 L1181.00,669.48 L1183.00,667.05 L1185.00,664.61 L1187.00,662.16 L1189.00,659.69 L1191.00,657.21 L1193.00,654.72 L1195.00,652.21 L1197.00,649.70 L1199.00,647.17 L1201.00,644.62 L1203.00,642.07 L1205.00,639.50 L1207.00,636.92 L1209.00,634.32 L1211.00,631.72 L1213.00,629.09 L1215.00,626.46 L1217.00,623.81 L1219.00,621.16 L1221.00,618.48 L1223.00,615.80 L1225.00,613.10 L1227.00,610.39 L1229.00,607.66 L1231.00,604.92 L1233.00,602.17 L1235.00,599.41 L1237.00,596.63 L1239.00,593.84 L1241.00,591.03 L1243.00,588.22 L1245.00,585.38 L1247.00,582.54 L1249.00,579.68 L1251.00,576.81 L1253.00,573.92 L1255.00,571.03 L1257.00,568.11 L1259.00,565.19 L1261.00,562.25" stroke="#5468b6" stroke-width="2.00" fill="none" stroke-linejoin="round"/>
<path d="M769.00,910.85 L771.00,910.86 L773.00,910.87 L775.00,910.87 L777.00,910.86 L779.00,910.84 L781.00,910.82 L783.00,910.79 L785.00,910.76 L787.00,910.72 L789.00,910.67 L791.00,910.61 L793.00,910.55 L795.00,910.48 L797.00,910.40 L799.00,910.31 L801.00,910.22 L803.00,910.12 L805.00,910.01 L807.00,909.90 L809.00,909.77 L811.00,909.64 L813.00,909.50 L815.00,909.35 L817.00,909.20 L819.00,909.03 L821.00,908.86 L823.00,908.67 L825.00,908.48 L827.00,908.28 L829.00,908.08 L831.00,907.86 L833.00,907.63 L835.00,907.39 L837.00,907.15 L839.00,906.89 L841.00,906.63 L843.00,906.36 L845.00,906.07 L847.00,905.78 L849.00,905.48 L851.00,905.16 L853.00,904.84 L855.00,904.50 L857.00,904.16 L859.00,903.81 L861.00,903.44 L863.00,903.07 L865.00,902.68 L867.00,902.28 L869.00,901.87 L871.00,901.46 L873.00,901.03 L875.00,900.58 L877.00,900.13 L879.00,899.67 L881.00,899.19 L883.00,898.70 L885.00,898.21 L887.00,897.70 L889.00,897.17 L891.00,896.64 L893.00,896.09 L895.00,895.53 L897.00,894.96 L899.00,894.38 L901.00,893.78 L903.00,893.17 L905.00,892.55 L907.00,891.92 L909.00,891.27 L911.00,890.61 L913.00,889.94 L915.00,889.25 L917.00,888.56 L919.00,887.84 L921.00,887.12 L923.00,886.38 L925.00,885.62 L927.00,884.86 L929.00,884.08 L931.00,883.28 L933.00,882.47 L935.00,881.65 L937.00,880.81 L939.00,879.96 L941.00,879.09 L943.00,878.21 L945.00,877.32 L947.00,876.41 L949.00,875.48 L951.00,874.54 L953.00,873.59 L955.00,872.62 L957.00,871.63 L959.00,870.63 L961.00,869.61 L963.00,868.58 L965.00,867.54 L967.00,866.47 L969.00,865.39 L971.00,864.30 L973.00,863.19 L975.00,862.06 L977.00,860.92 L979.00,859.76 L981.00,858.58 L983.00,857.39 L985.00,856.18 L987.00,854.95 L989.00,853.71 L991.00,851.47 L993.00,849.98 L995.00,848.49 L997.00,846.98 L999.00,845.47 L1001.00,843.95 L1003.00,842.42 L1005.00,840.89 L1007.00,839.34 L1009.00,837.79 L1011.00,836.23 L1013.00,834.66 L1015.00,833.09 L1017.00,831.50 L1019.00,829.91 L1021.00,828.30 L1023.00,826.69 L1025.00,825.07 L1027.00,823.44 L1029.00,821.80 L1031.00,820.15 L1033.00,818.50 L1035.00,816.83 L1037.00,815.15 L1039.00,813.46 L1041.00,811.77 L1043.00,810.06 L1045.00,808.35 L1047.00,806.62 L1049.00,804.88 L1051.00,803.14 L1053.00,801.38 L1055.00,799.61 L1057.00,797.83 L1059.00,796.04 L1061.00,794.24 L1063.00,792.43 L1065.00,790.61 L1067.00,788.78 L1069.00,786.94 L1071.00,785.08 L1073.00,783.21 L1075.00,781.34 L1077.00,779.45 L1079.00,777.54 L1081.00,775.63 L1083.00,773.71 L1085.00,771.77 L1087.00,769.82 L1089.00,767.86 L1091.00,765.89 L1093.00,763.90 L1095.00,761.90 L1097.00,759.89 L1099.00,757.87 L1101.00,755.83 L1103.00,753.78 L1105.00,751.72 L1107.00,749.65 L1109.00,747.56 L1111.00,745.46 L1113.00,743.34 L1115.00,741.21 L1117.00,739.07 L1119.00,736.91 L1121.00,734.75 L1123.00,732.56 L1125.00,730.36 L1127.00,728.15 L1129.00,725.93 L1131.00,723.69 L1133.00,721.43 L1135.00,719.16 L1137.00,716.88 L1139.00,714.58 L1141.00,712.27 L1143.00,709.94 L1145.00,707.60 L1147.00,705.24 L1149.00,702.87 L1151.00,700.48 L1153.00,698.08 L1155.00,695.66 L1157.00,693.23 L1159.00,690.78 L1161.00,688.31 L1163.00,685.83 L1165.00,683.33 L1167.00,680.82 L1169.00,678.29 L1171.00,675.74 L1173.00,673.18 L1175.00,670.60 L1177.00,668.00 L1179.00,665.39 L1181.00,662.76 L1183.00,660.12 L1185.00,657.45 L1187.00,654.77 L1189.00,652.08 L1191.00,649.36 L1193.00,646.63 L1195.00,643.88 L1197.00,641.12 L1199.00,638.33 L1201.00,635.53 L1203.00,632.71 L1205.00,629.87 L1207.00,627.02 L1209.00,624.14 L1211.00,621.25 L1213.00,618.34 L1215.00,615.41 L1217.00,612.46 L1219.00,609.50 L1221.00,606.51 L1223.00,603.51 L1225.00,600.48 L1227.00,597.44 L1229.00,594.38 L1231.00,591.30 L1233.00,588.20 L1235.00,585.08 L1237.00,581.94 L1239.00,578.78 L1241.00,575.61 L1243.00,572.41 L1245.00,569.19 L1247.00,565.95 L1249.00,562.69 L1251.00,559.41 L1253.00,556.12 L1255.00,552.80 L1257.00,549.46 L1258.60,546.77" stroke="#e2474f" stroke-width="2.00" fill="none" stroke-linejoin="round"/>
<text x="811.46" y="937.00" text-anchor="middle" class="tk">2.6</text>
<text x="896.38" y="937.00" text-anchor="middle" class="tk">2.8</text>
<text x="981.29" y="937.00" text-anchor="middle" class="tk">3.0</text>
<text x="1066.21" y="937.00" text-anchor="middle" class="tk">3.2</text>
<text x="1151.12" y="937.00" text-anchor="middle" class="tk">3.4</text>
<text x="1236.04" y="937.00" text-anchor="middle" class="tk">3.6</text>
<text x="760.50" y="916.90" text-anchor="end" class="tk">0</text>
<text x="760.50" y="760.65" text-anchor="end" class="tk">5</text>
<text x="760.50" y="604.40" text-anchor="end" class="tk"><tspan class="one">1</tspan>0</text>
<text x="1023.70" y="978.10" text-anchor="middle" class="lab">Voltage (V)</text>
<text transform="translate(717,724.4) rotate(-90)" text-anchor="middle" class="lab">Nonrad. current density (A/cm<tspan font-size="16" dy="-14.3">2</tspan><tspan dy="14.3">)</tspan></text>
<text x="789.5" y="576" class="lab">(d)</text>
<text x="910" y="582" class="bt" font-size="26"><tspan font-style="italic" class="jj">J</tspan><tspan font-size="17.5" dy="5.2">nonrad</tspan><tspan dy="-5.2"> = (<tspan class="one">1</tspan> - I<tspan class="qq">O</tspan>E)·</tspan><tspan font-style="italic" class="jj">J</tspan><tspan font-size="17.5" dy="5.2">F</tspan></text>
<path d="M1094.80,834.30H1148.90" stroke="#5468b6" stroke-width="2.00"/>
<path d="M1094.80,863.50H1148.90" stroke="#e2474f" stroke-width="2.00"/>
<text x="1154.30" y="842.40" class="lg" style="fill:#4a5eb2;stroke:#4a5eb2">sample <tspan class="one">1</tspan></text>
<text x="1154.30" y="872.00" class="lg" style="fill:#e23a46;stroke:#e23a46">sample 3</text>
<path transform="translate(171.40,414.20) scale(0.01099,-0.01099)" d="M803,0L623,0L623,1102L558,1043L453,982L353,937L353,1104L495,1169L602,1258L708,1347L753,1409L803,1409Z" style="fill:rgb(51, 51, 51);stroke:rgb(51, 51, 51);stroke-width:41.0"/>
<path transform="translate(42.22,18.60) scale(0.01099,-0.01099)" d="M803,0L623,0L623,1102L558,1043L453,982L353,937L353,1104L495,1169L602,1258L708,1347L753,1409L803,1409Z" style="fill:rgb(51, 51, 51);stroke:rgb(51, 51, 51);stroke-width:41.0"/>
<path transform="translate(295.89,280.20) scale(0.01099,-0.01099)" d="M803,0L623,0L623,1102L558,1043L453,982L353,937L353,1104L495,1169L602,1258L708,1347L753,1409L803,1409Z" style="fill:rgb(74, 94, 178);stroke:rgb(74, 94, 178);stroke-width:41.0"/>
<path transform="translate(735.47,318.90) scale(0.01099,-0.01099)" d="M803,0L623,0L623,1102L558,1043L453,982L353,937L353,1104L495,1169L602,1258L708,1347L753,1409L803,1409Z" style="fill:rgb(51, 51, 51);stroke:rgb(51, 51, 51);stroke-width:41.0"/>
<path transform="translate(1232.39,310.00) scale(0.01099,-0.01099)" d="M803,0L623,0L623,1102L558,1043L453,982L353,937L353,1104L495,1169L602,1258L708,1347L753,1409L803,1409Z" style="fill:rgb(74, 94, 178);stroke:rgb(74, 94, 178);stroke-width:41.0"/>
<path transform="translate(48.57,833.36) scale(0.01099,-0.01099)" d="M803,0L623,0L623,1102L558,1043L453,982L353,937L353,1104L495,1169L602,1258L708,1347L753,1409L803,1409Z" style="fill:rgb(51, 51, 51);stroke:rgb(51, 51, 51);stroke-width:41.0"/>
<path transform="translate(536.59,836.00) scale(0.01099,-0.01099)" d="M803,0L623,0L623,1102L558,1043L453,982L353,937L353,1104L495,1169L602,1258L708,1347L753,1409L803,1409Z" style="fill:rgb(74, 94, 178);stroke:rgb(74, 94, 178);stroke-width:41.0"/>
<path transform="translate(735.47,604.40) scale(0.01099,-0.01099)" d="M803,0L623,0L623,1102L558,1043L453,982L353,937L353,1104L495,1169L602,1258L708,1347L753,1409L803,1409Z" style="fill:rgb(51, 51, 51);stroke:rgb(51, 51, 51);stroke-width:41.0"/>
<path transform="translate(1022.08,582.00) scale(0.01270,-0.01270)" d="M851,0L570,0L570,1018L416,879L208,813L208,1058L330,1097L466,1170L603,1272L688,1409L851,1409Z" style="fill:rgb(21, 21, 21);stroke:rgb(21, 21, 21);stroke-width:11.8"/>
<path transform="translate(1238.69,842.40) scale(0.01099,-0.01099)" d="M803,0L623,0L623,1102L558,1043L453,982L353,937L353,1104L495,1169L602,1258L708,1347L753,1409L803,1409Z" style="fill:rgb(74, 94, 178);stroke:rgb(74, 94, 178);stroke-width:41.0"/>
<path transform="translate(1003.50,63.80) scale(1.0000)" d="M12.2,-18.7L15.4,-18.7L12.8,-6.5C12,-2.2 10.2,0.3 6.6,0.3C3.2,0.3 1.3,-1.6 0.7,-4.7L3.7,-5.3C4,-3.6 5,-2.6 6.5,-2.6C8.2,-2.6 9.1,-3.9 9.6,-6.6Z" style="fill:#151515;stroke:#151515;stroke-width:0.15"/>
<path transform="translate(260.50,582.00) scale(1.0000)" d="M12.2,-18.7L15.4,-18.7L12.8,-6.5C12,-2.2 10.2,0.3 6.6,0.3C3.2,0.3 1.3,-1.6 0.7,-4.7L3.7,-5.3C4,-3.6 5,-2.6 6.5,-2.6C8.2,-2.6 9.1,-3.9 9.6,-6.6Z" style="fill:#151515;stroke:#151515;stroke-width:0.15"/>
<path transform="translate(385.30,582.00) scale(1.0000)" d="M12.2,-18.7L15.4,-18.7L12.8,-6.5C12,-2.2 10.2,0.3 6.6,0.3C3.2,0.3 1.3,-1.6 0.7,-4.7L3.7,-5.3C4,-3.6 5,-2.6 6.5,-2.6C8.2,-2.6 9.1,-3.9 9.6,-6.6Z" style="fill:#151515;stroke:#151515;stroke-width:0.15"/>
<path transform="translate(910.00,582.00) scale(1.0000)" d="M12.2,-18.7L15.4,-18.7L12.8,-6.5C12,-2.2 10.2,0.3 6.6,0.3C3.2,0.3 1.3,-1.6 0.7,-4.7L3.7,-5.3C4,-3.6 5,-2.6 6.5,-2.6C8.2,-2.6 9.1,-3.9 9.6,-6.6Z" style="fill:#151515;stroke:#151515;stroke-width:0.15"/>
<path transform="translate(1121.80,582.00) scale(1.0000)" d="M12.2,-18.7L15.4,-18.7L12.8,-6.5C12,-2.2 10.2,0.3 6.6,0.3C3.2,0.3 1.3,-1.6 0.7,-4.7L3.7,-5.3C4,-3.6 5,-2.6 6.5,-2.6C8.2,-2.6 9.1,-3.9 9.6,-6.6Z" style="fill:#151515;stroke:#151515;stroke-width:0.15"/>
<g transform="translate(26,199.2) rotate(-90)"><path transform="translate(-15.76,0.00) scale(0.01318,-0.01318)" d="M871,422L1511,2L1428,-122L788,297Z" style="fill:rgb(51, 51, 51);stroke:rgb(51, 51, 51);stroke-width:34.1"/></g>
<g transform=""><path transform="translate(315.89,57.00) scale(0.01245,-0.01245)" d="M887,563L1607,43L1472,-143L752,376Z" style="fill:rgb(21, 21, 21);stroke:rgb(21, 21, 21);stroke-width:12.0"/></g>
<g transform=""><path transform="translate(339.06,582.00) scale(0.01270,-0.01270)" d="M887,563L1607,43L1472,-143L752,376Z" style="fill:rgb(21, 21, 21);stroke:rgb(21, 21, 21);stroke-width:11.8"/></g>
<g transform=""><path transform="translate(1066.89,582.00) scale(0.01270,-0.01270)" d="M887,563L1607,43L1472,-143L752,376Z" style="fill:rgb(21, 21, 21);stroke:rgb(21, 21, 21);stroke-width:11.8"/></g>
</svg></body></html>
